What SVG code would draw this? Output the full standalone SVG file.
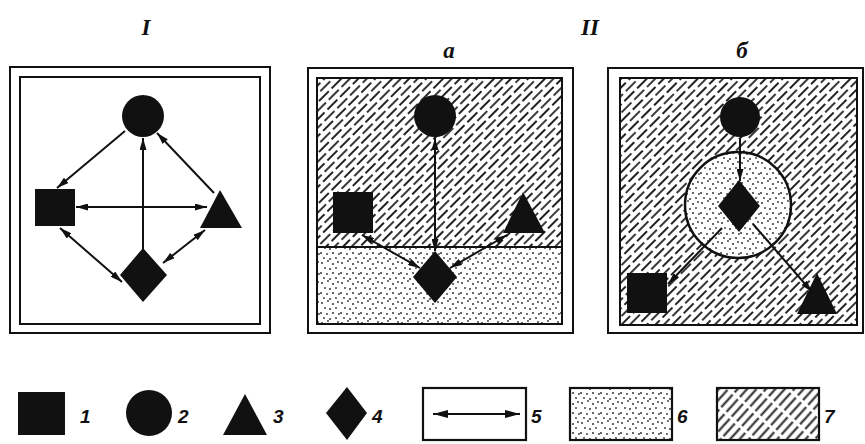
<svg xmlns="http://www.w3.org/2000/svg" width="865" height="444" viewBox="0 0 865 444">
<style>
.frame{fill:none;stroke:#111;stroke-width:2}
.shape{fill:#111}
.con{stroke:#111;stroke-width:2;fill:none}
.title{font-family:"Liberation Serif",serif;font-style:italic;font-size:23px;fill:#111;font-weight:bold}
.lbl{font-family:"Liberation Sans",sans-serif;font-style:italic;font-size:19px;fill:#111;font-weight:bold}
.box{stroke:#111;stroke-width:2.2}
</style>
<defs>
<marker id="ah" viewBox="0 0 12 7" refX="12" refY="3.5" markerWidth="12" markerHeight="7" orient="auto-start-reverse" markerUnits="userSpaceOnUse"><path d="M0,0 L12,3.5 L0,7 z" fill="#111"/></marker>
<marker id="ahL" viewBox="0 0 15 8" refX="15" refY="4" markerWidth="15" markerHeight="8" orient="auto-start-reverse" markerUnits="userSpaceOnUse"><path d="M0,0 L15,4 L0,8 z" fill="#111"/></marker>
<pattern id="hatch" width="18" height="12" patternUnits="userSpaceOnUse" patternTransform="rotate(-45)">
<rect width="18" height="12" fill="#fff"/>
<line x1="0" y1="3" x2="18" y2="3" stroke="#222" stroke-width="1.8" stroke-dasharray="14 4"/>
<line x1="0" y1="9" x2="18" y2="9" stroke="#222" stroke-width="1.8" stroke-dasharray="14 4" stroke-dashoffset="8"/>
</pattern>
<pattern id="hatch2" width="20" height="7" patternUnits="userSpaceOnUse" patternTransform="rotate(-48)">
<rect width="20" height="7" fill="#fff"/>
<line x1="0" y1="3.5" x2="20" y2="3.5" stroke="#222" stroke-width="2" stroke-dasharray="17 3"/>
</pattern>
<pattern id="dots" width="20" height="20" patternUnits="userSpaceOnUse">
<rect width="20" height="20" fill="#fff"/>
<g fill="#333">
<circle cx="2" cy="3" r="1"/><circle cx="8" cy="1" r="0.9"/><circle cx="13" cy="4" r="1"/><circle cx="18" cy="2" r="0.9"/>
<circle cx="5" cy="8" r="0.9"/><circle cx="10" cy="9" r="1"/><circle cx="16" cy="8" r="0.9"/>
<circle cx="1" cy="13" r="1"/><circle cx="7" cy="14" r="0.9"/><circle cx="13" cy="13" r="1"/><circle cx="19" cy="14" r="0.9"/>
<circle cx="4" cy="18" r="0.9"/><circle cx="10" cy="19" r="1"/><circle cx="16" cy="18" r="0.9"/>
</g>
</pattern>
</defs>

<!-- titles -->
<text class="title" x="146" y="35" text-anchor="middle">I</text>
<text class="title" x="590" y="35" text-anchor="middle">II</text>
<text class="title" x="449" y="58" text-anchor="middle">а</text>
<text class="title" x="742" y="58" text-anchor="middle">б</text>

<!-- Panel I -->
<g id="panel-I">
<rect class="frame" x="10" y="67" width="260" height="266"/>
<rect class="frame" x="20" y="77" width="240" height="247" stroke-width="2.5"/>
</g>
<g id="I-circle"><circle class="shape" cx="143" cy="116" r="21"/></g>
<g id="I-square"><rect class="shape" x="35" y="189" width="40" height="37"/></g>
<g id="I-triangle"><polygon class="shape" points="220,190 242,228 200,228"/></g>
<g id="I-diamond"><polygon class="shape" points="143,248 167,275 143,302 120,275"/></g>

<!-- Panel a -->
<g id="panel-a">
<rect x="317" y="78" width="245" height="169" fill="url(#hatch)"/>
<rect x="317" y="247" width="245" height="77" fill="url(#dots)"/>
<line x1="317" y1="247" x2="562" y2="247" stroke="#111" stroke-width="2.2"/>
<rect class="frame" x="308" y="68" width="265" height="265"/>
<rect class="frame" x="317" y="78" width="245" height="246" stroke-width="2.5"/>
</g>
<g id="a-circle"><circle class="shape" cx="435" cy="116" r="21"/></g>
<g id="a-square"><rect class="shape" x="333" y="192" width="40" height="41"/></g>
<g id="a-triangle"><polygon class="shape" points="523,192 545,233 503,233"/></g>
<g id="a-diamond"><polygon class="shape" points="435,251 457,277 435,303 413,277"/></g>

<!-- Panel b -->
<g id="panel-b">
<rect x="620" y="78" width="237" height="247" fill="url(#hatch)"/>
<rect class="frame" x="608" y="68" width="255" height="265"/>
<rect class="frame" x="620" y="78" width="237" height="247" stroke-width="2.5"/>
</g>
<g id="b-zone"><circle cx="738" cy="205" r="53" fill="url(#dots)" stroke="#111" stroke-width="2.5"/></g>
<g id="b-circle"><circle class="shape" cx="740" cy="117" r="20"/></g>
<g id="b-diamond"><polygon class="shape" points="739,180 760,206 739,232 718,206"/></g>
<g id="b-square"><rect class="shape" x="627" y="273" width="40" height="40"/></g>
<g id="b-triangle"><polygon class="shape" points="817,273 837,314 797,314"/></g>

<!-- connectors -->
<g id="connectors">
<line class="con" x1="125" y1="131" x2="57" y2="188" marker-end="url(#ah)"/>
<line class="con" x1="214" y1="193" x2="157" y2="133" marker-end="url(#ah)"/>
<line class="con" x1="76" y1="207" x2="207" y2="207" marker-start="url(#ah)" marker-end="url(#ah)"/>
<line class="con" x1="143" y1="249" x2="143" y2="138" marker-end="url(#ah)"/>
<line class="con" x1="60" y1="228" x2="122" y2="282" marker-start="url(#ah)" marker-end="url(#ah)"/>
<line class="con" x1="163" y1="263" x2="205" y2="230" marker-start="url(#ah)" marker-end="url(#ah)"/>

<line class="con" x1="435" y1="138" x2="435" y2="251" marker-start="url(#ah)" marker-end="url(#ah)"/>
<line class="con" x1="362" y1="235" x2="420" y2="268" marker-start="url(#ah)" marker-end="url(#ah)"/>
<line class="con" x1="507" y1="235" x2="450" y2="268" marker-start="url(#ah)" marker-end="url(#ah)"/>

<line class="con" x1="740" y1="138" x2="740" y2="181" marker-end="url(#ah)"/>
<line class="con" x1="722" y1="228" x2="668" y2="284" marker-end="url(#ah)"/>
<line class="con" x1="753" y1="224" x2="812" y2="292" marker-end="url(#ah)"/>
</g>

<!-- legend -->
<g id="legend-1"><rect class="shape" x="18" y="392" width="47" height="43"/><text class="lbl" x="80" y="423">1</text></g>
<g id="legend-2"><circle class="shape" cx="149" cy="413" r="23"/><text class="lbl" x="178" y="423">2</text></g>
<g id="legend-3"><polygon class="shape" points="245,394 267,435 223,435"/><text class="lbl" x="273" y="423">3</text></g>
<g id="legend-4"><polygon class="shape" points="347,387 367,413 347,440 326,413"/><text class="lbl" x="372" y="423">4</text></g>
<g id="legend-5"><rect class="box" x="423" y="388" width="103" height="52" fill="#fff"/><line class="con" x1="433" y1="414" x2="520" y2="414" stroke-width="2.2" marker-start="url(#ahL)" marker-end="url(#ahL)"/><text class="lbl" x="531" y="423">5</text></g>
<g id="legend-6"><rect class="box" x="570" y="388" width="102" height="52" fill="url(#dots)"/><text class="lbl" x="677" y="423">6</text></g>
<g id="legend-7"><rect class="box" x="717" y="388" width="102" height="52" fill="url(#hatch2)"/><text class="lbl" x="824" y="423">7</text></g>
</svg>
